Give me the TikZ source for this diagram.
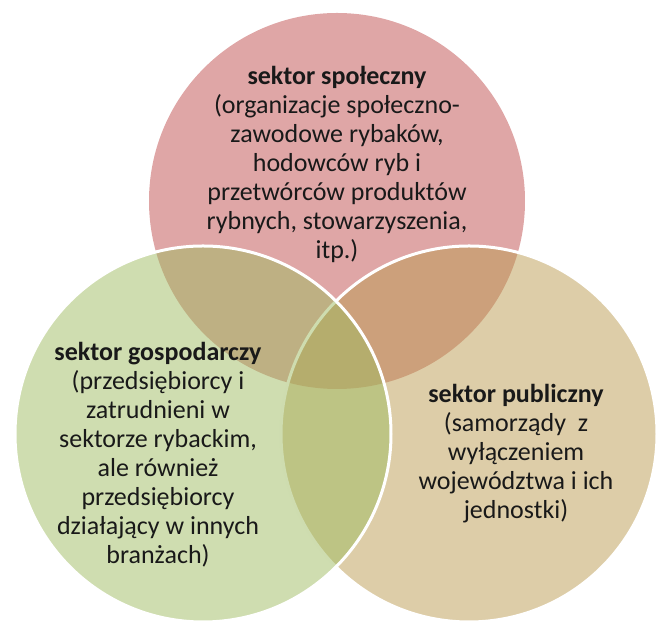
\documentclass[tikz,border=0pt]{standalone}
\usepackage{fontspec}
\setmainfont{Carlito}
\definecolor{spoleczny}{RGB}{223,166,166}
\definecolor{publiczny}{RGB}{187,155,81}
\definecolor{gospodarczy}{RGB}{159,187,97}
\tikzset{
  sektor/.style={align=center, font=\fontsize{19.5}{21.75}\selectfont, text=black!90, inner sep=0pt},
  kolo/.style={fill opacity=0.5, draw=white, line width=2.25pt}
}
\begin{document}
\begin{tikzpicture}[x=0.75pt,y=0.75pt]
			%%%%% START %%%%%
			\def\r{188}
			\def\xs{337}
			\def\ys{422}
			\def\xg{203}
			\def\xp{469}
			\def\yd{189}

			\useasboundingbox (0,0) rectangle (658,623);

			% kola
			\fill[spoleczny] (\xs,\ys) circle (\r);
			\path[kolo, fill=publiczny] (\xp,\yd) circle (\r);
			\path[kolo, fill=gospodarczy] (\xg,\yd) circle (\r);

			% opisy
			\node[sektor] (spol) at (\xs,459) {\textbf{sektor społeczny}\\(organizacje społeczno-\\zawodowe rybaków,\\hodowców ryb i\\przetwórców produktów\\rybnych, stowarzyszenia,\\itp.)};
			\node[sektor] (gosp) at (158,168) {\textbf{sektor gospodarczy}\\(przedsiębiorcy i\\zatrudnieni w\\sektorze rybackim,\\ale również\\przedsiębiorcy\\działający w innych\\branżach)};
			\node[sektor] (publ) at (516,169) {\textbf{sektor publiczny}\\(samorządy\ \ z\\wyłączeniem\\województwa i ich\\jednostki)};
			%%%%% END %%%%%
\end{tikzpicture}
\end{document}
